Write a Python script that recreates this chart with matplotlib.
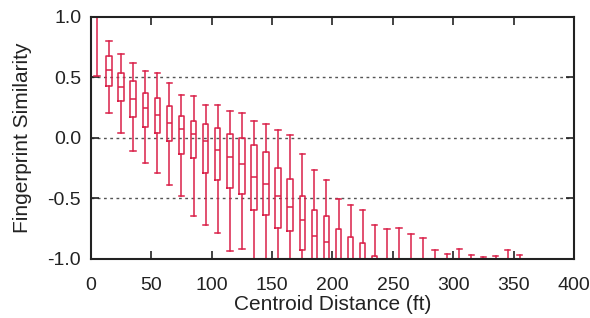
import matplotlib
matplotlib.use('Agg')
import matplotlib.pyplot as plt
import numpy as np

# bin centres (ft) and box statistics
distance = [5, 15, 25, 35, 45, 55, 65, 75, 85, 95, 105, 115, 125, 135, 145, 155, 165, 175,
            185, 195, 205, 215, 225, 235, 245, 255, 265, 275, 285, 295, 305, 315, 325, 335,
            345, 355]
whisker_lo = [0.51, 0.20, 0.04, -0.11, -0.21, -0.29, -0.39, -0.48, -0.65, -0.72, -0.79, -0.94,
              -0.92, -1.0, -1.0, -1.0, -1.0, -1.0, -1.0, -1.0, -1.0, -1.0, -1.0, -1.0, -1.0,
              -1.0, -1.0, -1.0, -1.0, -1.0, -1.0, -1.0, -1.0, -1.0, -1.0, -1.0]
q1 = [1.0, 0.43, 0.30, 0.17, 0.09, 0.04, -0.03, -0.14, -0.17, -0.29, -0.35, -0.42, -0.47, -0.60,
      -0.64, -0.75, -0.77, -0.93, -1.0, -1.0, -1.0, -1.0, -1.0, -1.0, -1.0, -1.0, -1.0, -1.0,
      -1.0, -1.0, -1.0, -1.0, -1.0, -1.0, -1.0, -1.0]
median = [1.0, 0.56, 0.42, 0.32, 0.24, 0.19, 0.12, 0.07, 0.03, -0.03, -0.10, -0.16, -0.22, -0.33,
          -0.38, -0.48, -0.57, -0.68, -0.81, -0.86, -1.0, -1.0, -1.0, -1.0, -1.0, -1.0, -1.0,
          -1.0, -1.0, -1.0, -1.0, -1.0, -1.0, -1.0, -1.0, -1.0]
q3 = [1.0, 0.67, 0.53, 0.47, 0.37, 0.33, 0.26, 0.18, 0.14, 0.11, 0.08, 0.03, 0.0, -0.06,
      -0.12, -0.25, -0.34, -0.48, -0.60, -0.65, -0.76, -0.82, -0.87, -0.98, -1.0, -1.0, -1.0,
      -1.0, -1.0, -1.0, -1.0, -1.0, -1.0, -1.0, -1.0, -1.0]
whisker_hi = [1.0, 0.80, 0.69, 0.62, 0.55, 0.53, 0.45, 0.35, 0.34, 0.27, 0.27, 0.22, 0.20, 0.14,
              0.11, 0.06, 0.02, -0.14, -0.27, -0.35, -0.51, -0.56, -0.60, -0.72, -0.76, -0.75,
              -0.80, -0.83, -0.93, -0.96, -0.92, -0.97, -0.99, -0.98, -0.93, -0.97]

stats = []
for i in range(len(distance)):
    stats.append({'whislo': whisker_lo[i], 'q1': q1[i], 'med': median[i],
                  'q3': q3[i], 'whishi': whisker_hi[i]})

red = '#DA2149'

plt.rcParams['font.family'] = ['Liberation Sans', 'DejaVu Sans']
fig = plt.figure(figsize=(5.9, 3.18), dpi=100)
ax = fig.add_axes([0.154, 0.187, 0.819, 0.761])

lp = dict(color=red, linewidth=1.1)
ax.bxp(stats, positions=distance, widths=4.5, capwidths=4.5, showfliers=False,
       boxprops=lp, whiskerprops=lp, capprops=lp, medianprops=lp, manage_ticks=False)

for y in [-0.5, 0.0, 0.5]:
    ax.axhline(y, color='#555555', linewidth=1.0, linestyle=(0, (2, 2.5)), zorder=0)

ax.set_xlim(0, 400)
ax.set_ylim(-1.0, 1.0)
ax.set_xticks(np.arange(0, 401, 50))
ax.set_yticks([-1.0, -0.5, 0.0, 0.5, 1.0])
ax.set_yticklabels(['-1.0', '-0.5', '0.0', '0.5', '1.0'])
ax.tick_params(direction='in', top=True, right=True, length=6, width=1.2,
               labelsize=14, colors='#222222')
ax.tick_params(axis='x', pad=13)
ax.tick_params(axis='y', pad=7)
for s in ax.spines.values():
    s.set_linewidth(1.5)
    s.set_color('#222222')

ax.set_xlabel('Centroid Distance (ft)', fontsize=15, color='#222222', labelpad=1)
ax.set_ylabel('Fingerprint Similarity', fontsize=15, color='#222222', labelpad=11)

fig.savefig('out.png', dpi=100)
